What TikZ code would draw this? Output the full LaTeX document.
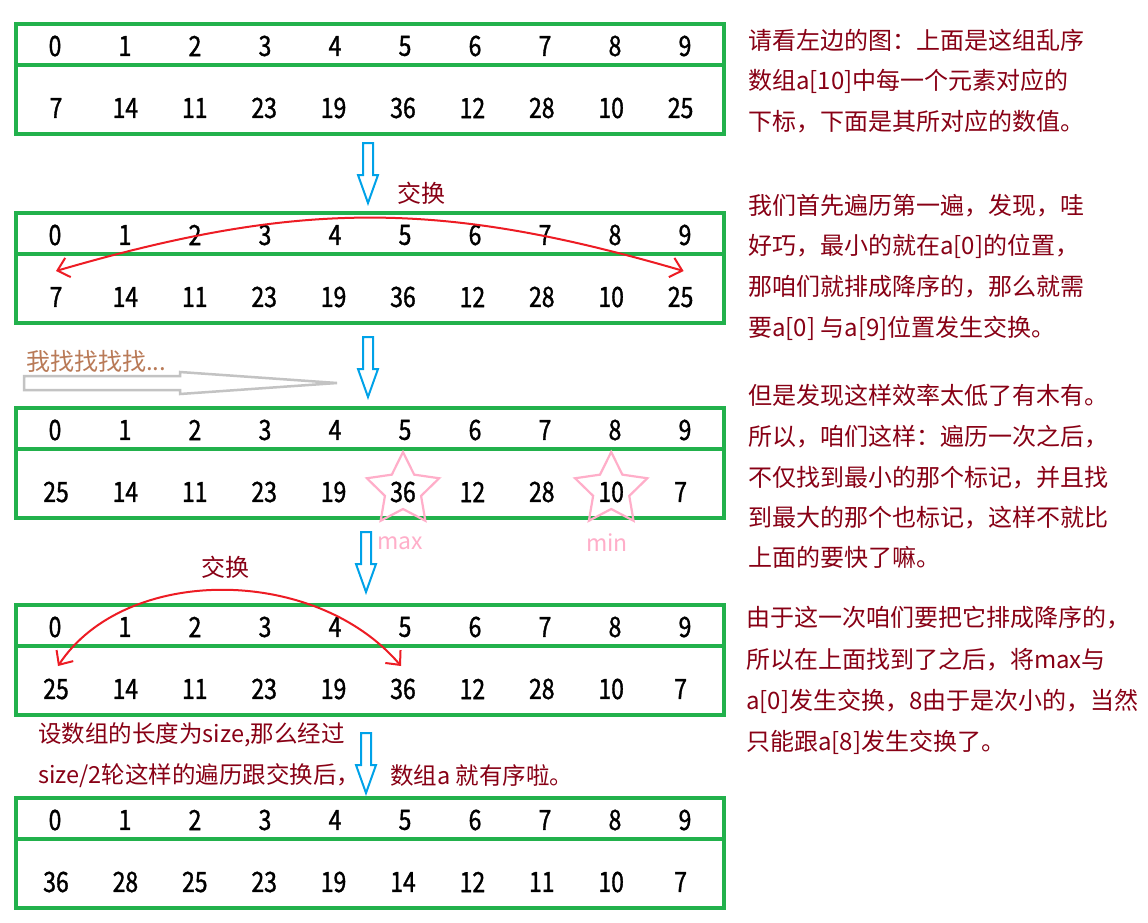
\documentclass[tikz,border=0pt]{standalone}
\usepackage{fontspec}
\setmainfont{Noto Sans CJK SC}
\newfontfamily\numf[FakeStretch=0.82,FakeBold=1.2]{Noto Sans CJK SC}
\usetikzlibrary{shapes.geometric,arrows.meta,calc}
\definecolor{boxgreen}{HTML}{22B14C}
\definecolor{darkred}{HTML}{880015}
\definecolor{swapred}{HTML}{ED1C24}
\definecolor{arrblue}{HTML}{00A2E8}
\definecolor{lightgray}{HTML}{C3C3C3}
\definecolor{pinkc}{HTML}{FFAEC9}
\definecolor{brownc}{HTML}{B97A57}
\tikzset{
  gbox/.style={draw=boxgreen,line width=4pt},
  numtxt/.style={inner sep=0pt,font=\numf\fontsize{28}{28}\selectfont},
  rtext/.style={anchor=west,inner sep=0pt,text=darkred,font=\fontsize{24}{24}\selectfont},
  ltext/.style={anchor=west,inner sep=0pt,text=darkred,font=\fontsize{23.5}{23.5}\selectfont},
  swaplbl/.style={inner sep=0pt,text=darkred,font=\fontsize{24}{24}\selectfont},
  marklbl/.style={inner sep=0pt,text=pinkc,font=\fontsize{23}{23}\selectfont},
  swaparrow/.style={draw=swapred,line width=2pt,{Straight Barb[length=11pt,width=20pt]}-{Straight Barb[length=11pt,width=20pt]}},
  bluearr/.style={draw=arrblue,line width=2pt,fill=white},
  grayarr/.style={draw=lightgray,line width=2.5pt},
  starmark/.style={star,star points=5,star point ratio=2.0,minimum size=76pt,inner sep=0pt,draw=pinkc,line width=2.2pt},
}
\newcommand\downarrowshape[3]{%
  \coordinate (#1) at (#2,#3);
  \draw[bluearr] (#1) ++(-5,0) -- ++(10,0) -- ++(0,32) -- ++(5,0) -- ++(-10,28) -- ++(-10,-28) -- ++(5,0) -- cycle;
}
\begin{document}
\begin{tikzpicture}[x=1pt,y=-1pt]
\useasboundingbox (0,0) rectangle (1148,922);
\fill[white] (0,0) rectangle (1148,922);

% arrays
\foreach \k/\T/\vals in {1/24/{7,14,11,23,19,36,12,28,10,25},
                         2/213/{7,14,11,23,19,36,12,28,10,25},
                         3/408/{25,14,11,23,19,36,12,28,10,7},
                         4/605/{25,14,11,23,19,36,12,28,10,7},
                         5/798/{36,28,25,23,19,14,12,11,10,7}}{
  \draw[gbox] (16,\T) rectangle (724,{\T+41});
  \draw[gbox] (16,{\T+41}) rectangle (724,{\T+110});
  \foreach \v [count=\i from 0] in \vals {
    \node[numtxt] (i\k-\i) at ({55+70*\i},{\T+22}) {\i};
    \node[numtxt] (v\k-\i) at ({56+69.4*\i},{\T+84}) {\v};
  }
}

% blue down arrows
\downarrowshape{b1}{368}{143}
\downarrowshape{b2}{368}{337}
\downarrowshape{b3}{366}{532}
\downarrowshape{b4}{366}{733}

% first swap
\node[swaplbl] (sw1) at (421,193) {交换};
\coordinate (t1l) at ($(v2-0)+(0,-26)$);
\coordinate (t1r) at ($(v2-9)+(3,-26)$);
\draw[swaparrow] (t1l) .. controls (300,200) and (440,200) .. (t1r);

% searching arrow
\node[anchor=west,inner sep=0pt,text=brownc,font=\fontsize{24}{24}\selectfont] (find) at (26,361) {我找找找找...};
\coordinate (g0) at (24,383);
\draw[grayarr] (g0) ++(0,-7) -- ++(156,0) -- ++(0,-4) -- (337,383) -- (180,394) -- ++(0,-4) -- ++(-156,0) -- cycle;

% stars
\node[starmark] (st1) at ($(v3-5)+(0,-2)$) {};
\node[starmark] (st2) at ($(v3-8)+(0,-2)$) {};
\node[marklbl] (mx) at (400,543) {max};
\node[marklbl] (mn) at (607,543) {min};

% second swap
\node[swaplbl] (sw2) at (225,567) {交换};
\coordinate (t2l) at ($(v4-0)+(2,-23)$);
\coordinate (t2r) at ($(v4-5)+(-2,-23)$);
\draw[swaparrow] (t2l) .. controls (125,565) and (315,565) .. (t2r);

% bottom-left text
\node[ltext] (l1) at (38,735) {设数组的长度为size,那么经过};
\node[ltext] (l2) at (38,776) {size/2轮这样的遍历跟交换后，};
\node[ltext] (l3) at (390,776) {数组a 就有序啦。};

% right column text
\node[rtext] (r1) at (748,40) {请看左边的图：上面是这组乱序};
\node[rtext] (r2) at (748,81) {数组a[10]中每一个元素对应的};
\node[rtext] (r3) at (748,122) {下标，下面是其所对应的数值。};
\node[rtext] (r4) at (748,206) {我们首先遍历第一遍，发现，哇};
\node[rtext] (r5) at (748,246) {好巧，最小的就在a[0]的位置，};
\node[rtext] (r6) at (748,287) {那咱们就排成降序的，那么就需};
\node[rtext] (r7) at (748,328) {要a[0] 与a[9]位置发生交换。};
\node[rtext] (r8) at (748,395) {但是发现这样效率太低了有木有。};
\node[rtext] (r9) at (748,437) {所以，咱们这样：遍历一次之后，};
\node[rtext] (r10) at (748,478) {不仅找到最小的那个标记，并且找};
\node[rtext] (r11) at (748,518) {到最大的那个也标记，这样不就比};
\node[rtext] (r12) at (748,557) {上面的要快了嘛。};
\node[rtext] (r13) at (746,618) {由于这一次咱们要把它排成降序的，};
\node[rtext] (r14) at (746,660) {所以在上面找到了之后，将max与};
\node[rtext] (r15) at (746,701) {a[0]发生交换，8由于是次小的，当然};
\node[rtext] (r16) at (746,742) {只能跟a[8]发生交换了。};
\end{tikzpicture}
\end{document}
